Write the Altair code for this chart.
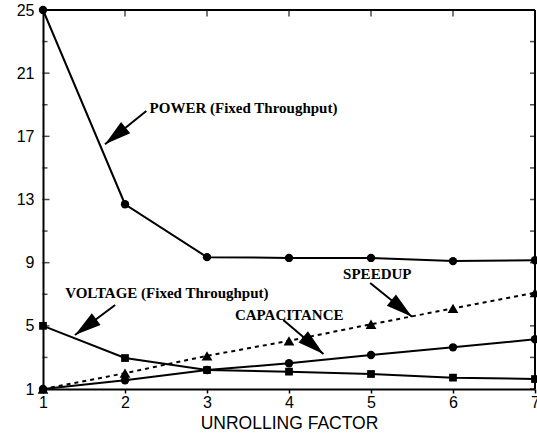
import math
import altair as alt
import pandas as pd

# ---- data ----
factor = [1, 2, 3, 4, 5, 6, 7]
power = [25, 12.7, 9.35, 9.3, 9.3, 9.1, 9.15]
voltage = [5, 2.96, 2.2, 2.1, 1.95, 1.72, 1.63]
capacitance = [1, 1.55, 2.2, 2.63, 3.15, 3.64, 4.15]
speedup = [1, 2.0, 3.1, 4.05, 5.1, 6.1, 7.1]

y_major = [1, 5, 9, 13, 17, 21, 25]
y_minor = [3, 7, 11, 15, 19, 23]
x_inner = [2, 3, 4, 5, 6]

ann_text = ["POWER (Fixed Throughput)", "VOLTAGE (Fixed Throughput)", "SPEEDUP", "CAPACITANCE"]
ann_tx = [2.30, 1.27, 4.66, 3.34]
ann_ty = [18.78, 7.09, 8.28, 5.68]
arrow_x1 = [2.26, 1.88, 4.99, 3.93]
arrow_y1 = [18.6, 6.32, 7.71, 5.37]
arrow_x2 = [1.756, 1.39, 5.50, 4.42]
arrow_y2 = [16.5, 4.42, 5.58, 3.22]

W, H = 492, 379
XD, YD = [1, 7], [1, 25]

xs = alt.Scale(domain=XD, nice=False, zero=False)
ys = alt.Scale(domain=YD, nice=False, zero=False)

def series_df(vals):
    return pd.DataFrame({"x": factor, "y": vals})

xenc = alt.X("x:Q", scale=xs,
             axis=alt.Axis(values=factor, tickSize=4, labelPadding=1, tickWidth=1.5,
                           tickColor="black", domain=True, domainColor="black", domainWidth=2,
                           grid=False, labelFlush=False,
                           labelFont="Liberation Sans", labelFontSize=16, labelColor="black",
                           title="UNROLLING FACTOR", titleFont="Liberation Sans",
                           titleFontSize=17.5, titleFontWeight="normal", titleColor="black",
                           titlePadding=4, format="d"))
yenc = alt.Y("y:Q", scale=ys,
             axis=alt.Axis(values=y_major, tickSize=0, labelPadding=9, domain=True,
                           domainColor="black", domainWidth=2, grid=False, labelFlush=False,
                           labelFont="Liberation Sans", labelFontSize=16, labelColor="black",
                           title=None, format="d"))

def line_layer(vals, shape, dash=None, msize=70):
    base = alt.Chart(series_df(vals))
    kw = dict(color="black", strokeWidth=2)
    if dash:
        kw["strokeDash"] = dash
    ln = base.mark_line(**kw).encode(x=xenc, y=yenc)
    pt = base.mark_point(shape=shape, filled=True, color="black", size=msize, opacity=1).encode(
        x=alt.X("x:Q", scale=xs), y=alt.Y("y:Q", scale=ys))
    return ln + pt

layers = [
    line_layer(power, "circle"),
    line_layer(voltage, "square", msize=60),
    line_layer(capacitance, "circle"),
    line_layer(speedup, "triangle-up", dash=[4, 4], msize=115),
]

# inward ticks
def yticks(vals, xpix, size):
    return alt.Chart(pd.DataFrame({"y": vals})).mark_tick(
        orient="horizontal", color="black", thickness=1.5, size=size).encode(
        y=alt.Y("y:Q", scale=ys), x=alt.value(xpix))

tick_layers = [
    yticks(y_major, 3, 7), yticks(y_minor, 2, 5),
    yticks(y_major + y_minor, W - 2.5, 5),
    alt.Chart(pd.DataFrame({"x": x_inner})).mark_tick(
        orient="vertical", color="black", thickness=1.5, size=7).encode(
        x=alt.X("x:Q", scale=xs), y=alt.value(3)),
]

# frame (top and right edges)
frame_df = pd.DataFrame({"k": [0]})
frame = [
    alt.Chart(frame_df).mark_rule(color="black", strokeWidth=2).encode(
        x=alt.value(0), x2=alt.value(W), y=alt.value(0)),
    alt.Chart(frame_df).mark_rule(color="black", strokeWidth=2).encode(
        x=alt.value(W), y=alt.value(0), y2=alt.value(H)),
]

# annotations
px_x = W / (XD[1] - XD[0])
px_y = H / (YD[1] - YD[0])
angles = []
for a, b, c, d in zip(arrow_x1, arrow_y1, arrow_x2, arrow_y2):
    dx = (c - a) * px_x
    dy = -(d - b) * px_y
    ang = math.degrees(math.atan2(dx, -dy)) % 360
    angles.append(ang)

adf = pd.DataFrame({"text": ann_text, "tx": ann_tx, "ty": ann_ty,
                    "x1": arrow_x1, "y1": arrow_y1, "x2": arrow_x2, "y2": arrow_y2,
                    "ang": angles})

texts = alt.Chart(adf).mark_text(align="left", baseline="middle", font="Liberation Serif",
                                 fontWeight="bold", fontSize=15, color="black").encode(
    x=alt.X("tx:Q", scale=xs), y=alt.Y("ty:Q", scale=ys), text="text:N")
rules = alt.Chart(adf).mark_rule(color="black", strokeWidth=2).encode(
    x=alt.X("x1:Q", scale=xs), y=alt.Y("y1:Q", scale=ys), x2="x2:Q", y2="y2:Q")
heads = alt.Chart(adf).mark_point(shape="M0,0 L-0.55,2 L0.55,2 Z", filled=True, color="black",
                                  size=700, opacity=1, strokeWidth=0).encode(
    x=alt.X("x2:Q", scale=xs), y=alt.Y("y2:Q", scale=ys), angle=alt.Angle("ang:Q", scale=None))

chart = alt.layer(*layers, *tick_layers, *frame, rules, heads, texts).properties(
    width=W, height=H,
    autosize=alt.AutoSizeParams(type="none"),
    padding={"left": 43, "top": 10, "right": 2, "bottom": 44},
).configure_view(stroke="black", strokeWidth=2, strokeOpacity=1).configure(background="white")

chart.save("out.html", embed_options={"renderer": "svg", "actions": False})
